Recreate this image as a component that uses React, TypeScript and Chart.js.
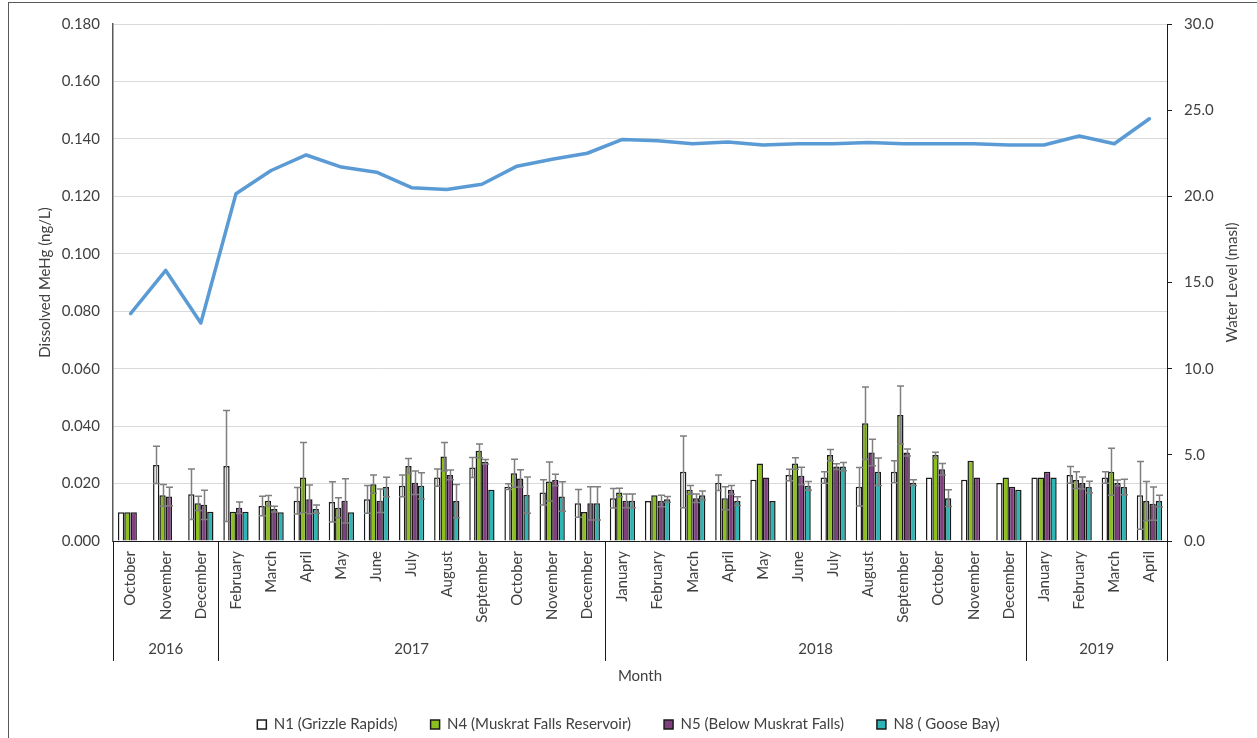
import { useEffect, useRef } from 'react';
import { Chart, registerables } from 'chart.js';

Chart.register(...registerables);

const months = [
  'October', 'November', 'December',
  'February', 'March', 'April', 'May', 'June', 'July', 'August', 'September', 'October', 'November', 'December',
  'January', 'February', 'March', 'April', 'May', 'June', 'July', 'August', 'September', 'October', 'November', 'December',
  'January', 'February', 'March', 'April',
];
const yearLabels = ['2016', '2017', '2018', '2019'];
const yearMonthCounts = [3, 11, 12, 4];

const seriesNames = ['N1 (Grizzle Rapids)', 'N4 (Muskrat Falls Reservoir)', 'N5 (Below Muskrat Falls)', 'N8 ( Goose Bay)'];
const seriesFill = ['#FFFFFF', '#8DBF1F', '#7F3F7F', '#2EB5B5'];

const n1 = [0.010, 0.0265, 0.0163, 0.0261, 0.0122, 0.0140, 0.0136, 0.0145, 0.0192, 0.0221, 0.0256, 0.0189, 0.0169, 0.0131, 0.0149, 0.0139, 0.0241, 0.0203, 0.0213, 0.0230, 0.0221, 0.0189, 0.0241, 0.0221, 0.0213, 0.0202, 0.0221, 0.0230, 0.0221, 0.0159];
const n1Err = [0, 0.0065, 0.0088, 0.0193, 0.0034, 0.0046, 0.0070, 0.0048, 0.0038, 0.0030, 0.0035, 0.0010, 0.0044, 0.0048, 0.0034, 0, 0.0125, 0.0027, 0, 0.0020, 0.0020, 0.0067, 0.0038, 0, 0, 0, 0, 0.0029, 0.0020, 0.0118];

const n4 = [0.010, 0.0159, 0.0131, 0.0102, 0.0140, 0.0221, 0.0116, 0.0198, 0.0261, 0.0294, 0.0314, 0.0236, 0.0207, 0.0101, 0.0169, 0.0159, 0.0178, 0.0149, 0.0270, 0.0270, 0.0299, 0.0410, 0.0439, 0.0299, 0.0279, 0.0221, 0.0221, 0.0212, 0.0241, 0.0139];
const n4Err = [0, 0.0038, 0.0025, 0, 0.0018, 0.0122, 0.0035, 0.0032, 0.0026, 0.0049, 0.0024, 0.0049, 0.0068, 0, 0.0015, 0, 0.0015, 0.0040, 0, 0.0020, 0.0020, 0.0126, 0.0101, 0.0010, 0, 0, 0, 0.0029, 0.0082, 0.0068];

const n5 = [0.010, 0.0155, 0.0126, 0.0116, 0.0111, 0.0145, 0.0140, 0.0140, 0.0203, 0.0230, 0.0276, 0.0218, 0.0212, 0.0131, 0.0140, 0.0139, 0.0149, 0.0178, 0.0221, 0.0227, 0.0259, 0.0308, 0.0308, 0.0250, 0.0221, 0.0189, 0.0241, 0.0202, 0.0202, 0.0130];
const n5Err = [0, 0.0032, 0.0051, 0.0020, 0.0010, 0.0050, 0.0077, 0.0041, 0.0041, 0.0017, 0.0008, 0.0030, 0.0020, 0.0058, 0.0024, 0.0020, 0.0015, 0.0015, 0, 0.0030, 0.0010, 0.0046, 0.0012, 0.0020, 0, 0, 0, 0.0021, 0.0010, 0.0058];

const n8 = [null, null, 0.0102, 0.0102, 0.0100, 0.0111, 0.0100, 0.0188, 0.0192, 0.0139, 0.0178, 0.0160, 0.0155, 0.0131, 0.0140, 0.0145, 0.0159, 0.0139, 0.0139, 0.0192, 0.0259, 0.0241, 0.0203, 0.0149, null, 0.0178, 0.0221, 0.0188, 0.0188, 0.0139];
const n8Err = [0, 0, 0, 0, 0, 0.0014, 0, 0.0034, 0.0046, 0.0058, 0, 0.0063, 0.0051, 0.0058, 0.0024, 0.0010, 0.0015, 0.0015, 0, 0.0015, 0.0014, 0.0048, 0.0010, 0.0029, 0, 0, 0, 0.0020, 0.0027, 0.0020];

const waterLevel = [13.2, 15.7, 12.65, 20.15, 21.5, 22.4, 21.7, 21.4, 20.5, 20.4, 20.7, 21.75, 22.15, 22.5, 23.3, 23.22, 23.05, 23.15, 22.98, 23.05, 23.05, 23.13, 23.05, 23.05, 23.05, 22.98, 22.98, 23.5, 23.05, 24.5];

const leftTicksMax = 0.18;
const leftStep = 0.02;
const rightTicksMax = 30;
const rightStep = 5;

const FONT = 'Lato, "Open Sans", "DejaVu Sans", sans-serif';
const TEXT = '#404040';

const borderPlugin = {
  id: 'frameBorder',
  beforeDraw(chart: any) {
    const ctx = chart.ctx;
    ctx.save();
    ctx.fillStyle = '#FFFFFF';
    ctx.fillRect(0, 0, chart.width, chart.height);
    ctx.strokeStyle = '#595959';
    ctx.lineWidth = 1;
    ctx.strokeRect(8.5, 2.5, chart.width + 20, chart.height + 20);
    ctx.restore();
  },
};

const errorBarPlugin = {
  id: 'errorBars',
  afterDatasetDraw(chart: any, args: any) {
    const ds: any = chart.data.datasets[args.index];
    const errs = ds.errors;
    if (!errs) return;
    const meta = args.meta;
    const yScale = chart.scales[meta.yAxisID];
    const ctx = chart.ctx;
    ctx.save();
    ctx.strokeStyle = '#7F7F7F';
    ctx.lineWidth = 1.5;
    meta.data.forEach((el: any, i: number) => {
      const v = ds.data[i];
      const e = errs[i];
      if (v == null || !e) return;
      const x = Math.round(el.x) + 0.5;
      const yt = yScale.getPixelForValue(v + e);
      const yb = yScale.getPixelForValue(v - e);
      const cap = 3.5;
      ctx.beginPath();
      ctx.moveTo(x, yt);
      ctx.lineTo(x, yb);
      ctx.moveTo(x - cap, yt);
      ctx.lineTo(x + cap, yt);
      ctx.moveTo(x - cap, yb);
      ctx.lineTo(x + cap, yb);
      ctx.stroke();
    });
    ctx.restore();
  },
};

const yearRowPlugin = {
  id: 'yearRow',
  afterDraw(chart: any) {
    const xs = chart.scales.x;
    const area = chart.chartArea;
    const ctx = chart.ctx;
    const n = months.length;
    const boundary = (idx: number) => {
      if (idx <= 0) return area.left;
      if (idx >= n) return area.right;
      return (xs.getPixelForValue(idx - 1) + xs.getPixelForValue(idx)) / 2;
    };
    ctx.save();
    ctx.strokeStyle = '#1a1a1a';
    ctx.lineWidth = 1;
    ctx.fillStyle = TEXT;
    ctx.font = `15px ${FONT}`;
    ctx.textAlign = 'center';
    ctx.textBaseline = 'middle';
    let start = 0;
    const lineBottom = area.bottom + 120;
    for (let g = 0; g < yearLabels.length; g++) {
      const end = start + yearMonthCounts[g];
      const x0 = boundary(start);
      const x1 = boundary(end);
      ctx.beginPath();
      ctx.moveTo(Math.round(x0) + 0.5, area.bottom);
      ctx.lineTo(Math.round(x0) + 0.5, lineBottom);
      if (g === yearLabels.length - 1) {
        ctx.moveTo(Math.round(x1) + 0.5, area.bottom);
        ctx.lineTo(Math.round(x1) + 0.5, lineBottom);
      }
      ctx.stroke();
      ctx.fillText(yearLabels[g], (x0 + x1) / 2, area.bottom + 108);
      start = end;
    }
    // right axis title (reads bottom-to-top)
    ctx.translate(1232, (area.top + area.bottom) / 2);
    ctx.rotate(-Math.PI / 2);
    ctx.fillText('Water Level (masl)', 0, 0);
    ctx.restore();
  },
};

function makeBar(idx: number, data: (number | null)[], errs: number[]) {
  return {
    type: 'bar' as const,
    label: seriesNames[idx],
    data,
    errors: errs,
    backgroundColor: seriesFill[idx],
    borderColor: '#1a1a1a',
    borderWidth: 1.5,
    yAxisID: 'y',
    order: 1,
    categoryPercentage: 0.72,
    barPercentage: 1.0,
  };
}

export default function App() {
  const canvasRef = useRef<HTMLCanvasElement | null>(null);

  useEffect(() => {
    document.body.style.margin = '0';
    const canvas = canvasRef.current;
    if (!canvas) return;
    const chart = new Chart(canvas, {
      type: 'bar',
      data: {
        labels: months,
        datasets: [
          makeBar(0, n1, n1Err),
          makeBar(1, n4, n4Err),
          makeBar(2, n5, n5Err),
          makeBar(3, n8, n8Err),
          {
            type: 'line',
            label: 'Water Level',
            data: waterLevel,
            borderColor: '#5B9BD5',
            backgroundColor: '#5B9BD5',
            borderWidth: 3.5,
            pointRadius: 0,
            tension: 0,
            yAxisID: 'y1',
            order: 0,
            borderJoinStyle: 'round',
            borderCapStyle: 'round',
          } as any,
        ],
      },
      options: {
        animation: false,
        responsive: false,
        devicePixelRatio: 1,
        layout: { padding: { top: 24, left: 0, right: 0, bottom: -4 } },
        plugins: {
          tooltip: { enabled: false },
          legend: {
            position: 'bottom',
            labels: {
              boxWidth: 9,
              boxHeight: 9,
              padding: 33,
              color: TEXT,
              font: { family: FONT, size: 15 },
              filter: (item: any) => item.datasetIndex < 4,
            },
          },
        },
        scales: {
          x: {
            offset: true,
            grid: { display: false, drawTicks: false },
            border: { display: true, color: '#1a1a1a', width: 1 },
            ticks: {
              autoSkip: false,
              minRotation: 90,
              maxRotation: 90,
              padding: 10,
              color: TEXT,
              font: { family: FONT, size: 15 },
            },
            title: {
              display: true,
              text: 'Month',
              color: TEXT,
              font: { family: FONT, size: 15 },
              padding: { top: 0, bottom: -1 },
            },
            afterFit: (s: any) => { s.height = 143; },
          },
          y: {
            position: 'left',
            min: 0,
            max: leftTicksMax,
            grid: { color: '#D9D9D9', lineWidth: 1, drawTicks: false },
            border: { display: true, color: '#595959', width: 1.5 },
            ticks: {
              stepSize: leftStep,
              padding: 13,
              color: TEXT,
              font: { family: FONT, size: 15 },
              callback: (v: any) => Number(v).toFixed(3),
            },
            title: {
              display: true,
              text: 'Dissolved MeHg (ng/L)',
              color: TEXT,
              font: { family: FONT, size: 15 },
              padding: { top: 36, bottom: 0 },
            },
            afterFit: (s: any) => { s.width = 113; },
          },
          y1: {
            position: 'right',
            min: 0,
            max: rightTicksMax,
            grid: { drawOnChartArea: false, drawTicks: true, tickLength: 5, color: '#1a1a1a' },
            border: { display: true, color: '#1a1a1a', width: 1 },
            ticks: {
              stepSize: rightStep,
              padding: 12,
              color: TEXT,
              font: { family: FONT, size: 15 },
              callback: (v: any) => Number(v).toFixed(1),
            },
            afterFit: (s: any) => { s.width = 90; },
          },
        },
      },
      plugins: [borderPlugin, errorBarPlugin, yearRowPlugin],
    } as any);
    return () => chart.destroy();
  }, []);

  return (
    <div style={{ width: 1257, height: 738, position: 'relative' }}>
      <canvas ref={canvasRef} width={1257} height={738} style={{ display: 'block' }} />
    </div>
  );
}
